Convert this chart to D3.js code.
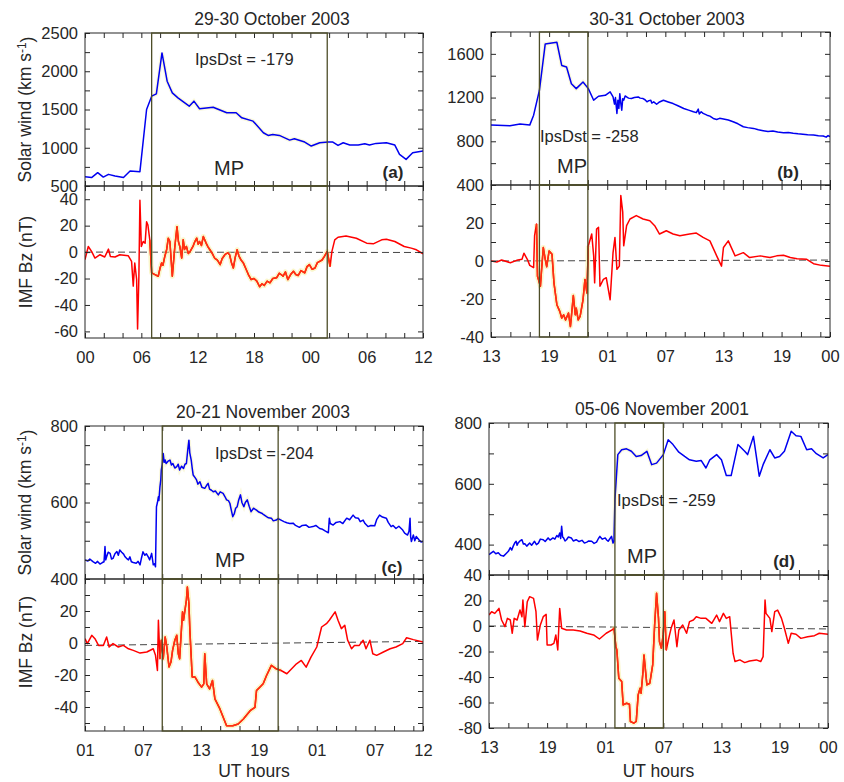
<!DOCTYPE html>
<html>
<head>
<meta charset="utf-8">
<script src="https://cdn.jsdelivr.net/npm/d3@7/dist/d3.min.js"></script>
<style>
  body { margin: 0; background: #fff; }
  svg text { font-family: "Liberation Sans", Arial, Helvetica, sans-serif; fill: #262626; }
</style>
</head>
<body>
<svg id="fig" width="844" height="782"></svg>
<script>
// ---- Event labels ----
const titles = ["29-30 October 2003", "30-31 October 2003", "20-21 November 2003", "05-06 November 2001"];
const letters = ["(a)", "(b)", "(c)", "(d)"];
const ipsDst = [-179, -258, -204, -259];

// ---- UT hour axes (hours from start of window) ----
const hourTicksA = [0, 6, 12, 18, 24, 30, 36];
const hourLabelsA = ["00", "06", "12", "18", "00", "06", "12"];
const hourTicksBCD = [0, 6, 12, 18, 24, 30, 35];
const hourLabelsB = ["13", "19", "01", "07", "13", "19", "00"];
const hourLabelsC = ["01", "07", "13", "19", "01", "07", "12"];
const hourLabelsD = ["13", "19", "01", "07", "13", "19", "00"];
const hourSpans = [36, 35, 35, 35];

// ---- Main phase (MP) windows, hours ----
const mpWindows = [[7.1, 25.8], [5, 10], [8, 20], [13, 18]];
// dashed reference line, Bz value at window start / end
const zeroLines = [[0, -0.3], [0, 0.5], [-1.5, 1], [0, -2.3]];

// ---- Value axes ----
const windDomains = [[500, 2500], [400, 1800], [400, 800], [300, 800]];
const windMinorSteps = [250, 200, 50, 100];
const windLabelSteps = [500, 400, 200, 200];
const bzDomains = [[-65, 50], [-40, 40], [-55, 40], [-80, 40]];
const bzMinorSteps = [20, 10, 10, 20];
const bzLabelSteps = [20, 20, 20, 20];

// ---- Solar wind speed (km/s) : [hour, value] ----
const windA = [[0,620],[0.7,610],[1.35,674],[1.95,617],[2.5,652],[3.2,630],[4.1,610],[4.8,695],[5.85,687],[6.56,1500],[7.1,1674],[7.6,1704],[8.2,2239],[8.75,1870],[9.3,1717],[9.9,1652],[11.1,1543],[11.6,1609],[12.2,1509],[13.65,1530],[15.1,1457],[16.1,1457],[16.7,1391],[17.9,1348],[19.0,1196],[19.5,1161],[20.0,1174],[20.7,1161],[21.8,1100],[22.3,1117],[23.4,1074],[24.1,1022],[25.0,1065],[25.9,1074],[26.4,1074],[26.95,1030],[27.5,1065],[28.2,1035],[29.1,1035],[29.8,1052],[30.3,1035],[31.0,1057],[32.1,1065],[33.0,1035],[33.5,913],[34.2,848],[34.9,935],[36,957]];
const windB = [[0,948],[1.96,942],[3.0,958],[4.0,948],[4.4,1039],[5.0,1267],[5.6,1691],[6.1,1697],[6.8,1706],[7.3,1494],[7.8,1479],[8.3,1327],[8.8,1282],[9.5,1342],[10.05,1282],[10.6,1176],[11.1,1212],[11.8,1221],[12.3,1252],[12.6,1206],[12.75,1140],[12.85,1200],[13.0,1055],[13.1,1176],[13.2,1100],[13.3,1236],[13.4,1150],[13.5,1085],[13.6,1190],[13.7,1176],[13.85,1215],[14.0,1206],[14.2,1195],[14.5,1191],[14.8,1200],[15.2,1206],[15.4,1195],[15.7,1191],[15.9,1180],[16.1,1161],[16.3,1172],[16.5,1175],[16.6,1150],[16.8,1161],[17.1,1139],[17.4,1160],[17.8,1176],[18.3,1160],[18.8,1145],[19.3,1125],[19.9,1100],[20.4,1085],[20.9,1070],[21.2,1062],[21.4,1095],[21.5,1050],[21.7,1070],[21.9,1055],[22.3,1039],[22.6,1030],[22.95,1009],[23.3,1000],[23.6,1010],[24.0,1003],[24.5,995],[25.0,979],[25.5,960],[26.05,933],[26.5,925],[27.1,918],[27.6,905],[28.1,897],[28.6,890],[29.1,894],[29.6,885],[30.2,879],[30.7,880],[31.2,873],[31.7,868],[32.2,864],[32.7,860],[33.3,858],[33.8,850],[34.3,848],[34.6,838],[34.8,852],[35,842]];
const windC = [[0,450],[0.3,447],[0.5,452],[0.86,445],[1.1,441],[1.3,446],[1.55,439],[1.8,443],[1.97,445],[2.07,485],[2.15,450],[2.24,458],[2.4,470],[2.6,467],[2.75,452],[2.9,454],[3.1,466],[3.3,472],[3.45,462],[3.6,476],[3.8,470],[4.0,465],[4.15,458],[4.3,454],[4.5,450],[4.65,458],[4.8,445],[5.0,443],[5.3,441],[5.5,446],[5.7,437],[5.85,455],[6.0,471],[6.2,462],[6.35,466],[6.55,458],[6.7,450],[6.9,467],[7.07,437],[7.2,440],[7.3,432],[7.4,589],[7.5,600],[7.6,615],[7.65,605],[7.76,641],[7.85,660],[7.9,685],[8.0,700],[8.1,728],[8.2,705],[8.3,711],[8.4,702],[8.6,708],[8.8,711],[8.95,698],[9.1,702],[9.3,690],[9.5,694],[9.65,700],[9.8,685],[10.0,695],[10.2,689],[10.35,700],[10.5,702],[10.65,740],[10.76,763],[10.85,730],[11.0,711],[11.1,690],[11.2,672],[11.4,665],[11.55,659],[11.7,648],[11.9,654],[12.1,640],[12.4,637],[12.6,645],[12.75,650],[12.9,635],[13.1,632],[13.3,628],[13.5,630],[13.8,620],[14.0,628],[14.3,624],[14.5,615],[14.66,607],[14.85,605],[15.0,598],[15.15,580],[15.3,563],[15.45,570],[15.6,585],[15.76,589],[15.9,605],[16.1,620],[16.25,600],[16.45,589],[16.6,600],[16.8,607],[17.0,590],[17.2,576],[17.45,585],[17.76,580],[18.0,575],[18.3,572],[18.5,568],[18.8,563],[19.0,560],[19.3,559],[19.5,552],[19.8,554],[20.0,558],[20.3,554],[20.6,550],[20.9,547],[21.2,545],[21.55,546],[21.8,540],[22.2,535],[22.5,540],[22.9,541],[23.2,535],[23.6,537],[23.9,540],[24.3,532],[24.6,530],[24.9,525],[25.2,521],[25.3,559],[25.4,545],[25.7,541],[26.0,548],[26.4,550],[26.7,545],[27.1,559],[27.4,555],[27.76,567],[28.0,560],[28.3,559],[28.5,550],[28.8,554],[29.0,545],[29.3,537],[29.6,540],[30.0,539],[30.2,555],[30.5,567],[30.8,562],[31.2,559],[31.4,548],[31.7,537],[31.9,540],[32.2,532],[32.5,538],[32.9,528],[33.1,520],[33.4,515],[33.55,525],[33.66,559],[33.72,510],[33.8,498],[34.0,515],[34.15,500],[34.3,511],[34.6,502],[34.8,497],[35,498]];
const windD = [[0,367],[0.2,372],[0.45,378],[0.7,370],[0.96,373],[1.2,365],[1.5,362],[1.75,370],[2.0,378],[2.2,390],[2.35,382],[2.5,395],[2.65,405],[2.8,411],[2.9,398],[3.0,405],[3.2,412],[3.4,416],[3.55,402],[3.7,403],[3.9,395],[4.2,405],[4.4,398],[4.7,411],[4.9,400],[5.1,405],[5.3,418],[5.6,416],[5.8,410],[6.1,422],[6.3,415],[6.6,422],[6.8,418],[7.0,430],[7.15,425],[7.3,438],[7.4,420],[7.5,460],[7.6,425],[7.7,422],[7.85,412],[8.0,416],[8.2,425],[8.5,422],[8.7,412],[9.0,416],[9.3,410],[9.6,414],[9.85,405],[10.1,408],[10.3,412],[10.6,411],[10.85,404],[11.1,408],[11.3,420],[11.45,427],[11.7,418],[12.0,422],[12.15,415],[12.3,411],[12.5,420],[12.65,427],[12.8,405],[12.9,411],[13.0,548],[13.3,696],[13.7,712],[14.2,715],[14.7,707],[15.2,690],[15.7,693],[16.3,707],[16.8,663],[17.3,668],[18.0,696],[18.5,745],[19.0,729],[19.6,704],[20.2,690],[20.7,679],[21.4,674],[21.9,677],[22.4,652],[22.8,679],[23.5,696],[24.0,679],[24.5,627],[25.0,627],[25.7,729],[26.4,707],[26.7,696],[27.3,756],[27.9,625],[28.3,663],[29.0,712],[29.5,685],[30.0,690],[30.5,707],[31.2,773],[31.7,758],[32.2,756],[32.8,712],[33.3,715],[33.8,699],[34.5,685],[35,696]];

// ---- IMF Bz (nT) : [hour, value] ----
const bzA = [[0,-5.75],[0.35,4.25],[0.7,0.5],[1.06,-4.5],[1.6,-2],[2.1,-3.75],[2.5,2.25],[2.7,-3.25],[3.2,-3.75],[3.7,-2],[4.6,-2.75],[4.96,-7],[5.14,-25.75],[5.3,-8.25],[5.5,-20.75],[5.6,-58.25],[5.74,-18.25],[5.85,39.25],[6.0,4.25],[6.2,8],[6.4,6.75],[6.56,23],[6.7,20.5],[6.9,9.25],[7.1,-15.75],[7.45,-17],[7.8,-18.25],[8.0,-12],[8.16,-8.25],[8.3,-10],[8.5,-3.25],[8.7,2],[8.87,10.5],[9.04,8],[9.3,-18.25],[9.57,4.25],[9.8,19.25],[9.95,8],[10.1,4.25],[10.3,-4.5],[10.46,9.25],[10.6,2],[10.8,4.25],[11.0,-1],[11.2,0.5],[11.5,4.25],[11.7,8],[11.9,10.5],[12.05,6],[12.2,8],[12.4,5],[12.6,11.75],[12.9,6.75],[13.1,4],[13.3,1.75],[13.55,-1],[13.8,-4.5],[14.1,-6],[14.4,-9.5],[14.6,-5],[14.9,-2],[15.2,-0.5],[15.4,-2],[15.6,-8],[15.8,-12],[16.0,-4],[16.2,1.75],[16.4,-3],[16.6,-5.75],[16.85,-8],[17.1,-12],[17.4,-17],[17.7,-20.75],[18.0,-20],[18.3,-22],[18.6,-26.25],[18.85,-24],[19.1,-25.25],[19.4,-22],[19.7,-23.25],[20.0,-20],[20.4,-19.5],[20.7,-16],[21.1,-18.25],[21.35,-15],[21.6,-20.75],[21.9,-17],[22.2,-14.5],[22.45,-17],[22.7,-17.75],[23.0,-14],[23.4,-15.75],[23.65,-11],[23.9,-9.5],[24.2,-13],[24.5,-12],[24.75,-8],[25.0,-7],[25.25,-6],[25.5,-3.25],[25.8,0.5],[26.1,-10.75],[26.3,0.5],[26.6,9.25],[26.95,11.25],[27.8,12.25],[28.9,10.5],[30.0,6.75],[30.7,6.25],[31.6,9.25],[32.1,9.75],[33.0,8],[34.0,4.25],[34.75,3],[35.3,1.75],[36,-1.25]];
const bzB = [[0,0],[0.6,-0.5],[1.1,0.5],[2.0,-0.9],[2.65,0.35],[3.2,0.9],[3.4,4.1],[3.75,0.9],[4.0,-2.3],[4.4,-3.5],[4.5,13.3],[4.7,19.5],[4.8,-8],[5.1,-13.3],[5.2,-6.2],[5.4,7.1],[5.6,0.9],[5.75,-3],[6.0,5.3],[6.3,3.5],[6.5,-11.5],[6.8,-23],[7.1,-26.5],[7.3,-30],[7.5,-28.3],[7.7,-31],[8.0,-27.4],[8.2,-34.5],[8.3,-29.2],[8.5,-18.2],[8.7,-28.3],[8.8,-24.8],[9.0,-31],[9.2,-29.2],[9.5,-20.4],[9.7,-9.7],[9.9,-16.8],[10.05,8],[10.4,14.2],[10.6,2.7],[10.7,-11.5],[10.9,16.8],[11.1,17.7],[11.25,-13.3],[11.6,-9.7],[11.9,-8.8],[12.3,-20.4],[12.6,4.4],[12.8,12.4],[13.0,-4.4],[13.25,-2.7],[13.4,34.5],[13.6,25.7],[13.7,8],[14.0,18.6],[14.35,22.1],[15.0,23.9],[15.7,22.1],[16.4,21.2],[16.9,18.6],[17.4,14.2],[18.1,15.9],[18.8,14.2],[19.5,13.3],[20.5,14.2],[21.2,14.7],[21.9,12.4],[22.6,10.6],[23.3,2.7],[23.8,-2.7],[24.0,7.1],[24.5,10.6],[25.2,2.7],[26.05,4.4],[26.7,1.8],[27.8,2.7],[28.8,1.8],[29.5,2.7],[30.2,3],[30.9,1.8],[31.6,1.2],[32.6,0.9],[33.3,-1.4],[34.1,-2.3],[35,-2.7]];
const bzC = [[0,2.7],[0.24,-0.4],[0.7,4.8],[1.03,2.7],[1.4,-1.5],[1.9,-1.5],[2.24,3.8],[2.5,-2.5],[2.9,-0.4],[3.45,-2.5],[3.97,-1.5],[4.5,-3.6],[5.0,-4.6],[5.7,-6.3],[6.4,-5.6],[7.07,-3.6],[7.3,-7.7],[7.5,-17.2],[7.6,14.2],[7.76,-9.8],[7.9,1.7],[8.1,-9.8],[8.3,3.8],[8.45,-1.5],[8.7,-15],[8.9,-11.9],[9.07,-4.6],[9.3,1.7],[9.5,4.8],[9.66,-6.7],[9.8,-9.8],[10.0,10],[10.1,19.5],[10.2,14.2],[10.4,22.6],[10.5,26.8],[10.6,35],[10.76,24.7],[10.86,7.9],[11.0,-8.8],[11.1,-21.3],[11.4,-21.3],[11.7,-24.5],[12.07,-27.6],[12.3,-25.5],[12.4,-6.7],[12.6,-25.5],[12.9,-28.7],[13.2,-23.4],[13.45,-34.9],[13.97,-41.2],[14.66,-51.7],[15.3,-51.7],[15.86,-50.6],[16.4,-47.5],[17.1,-42.3],[17.6,-40.2],[17.76,-29.7],[18.1,-27.6],[18.45,-25.5],[18.8,-20.3],[19.3,-14],[19.8,-16.1],[20.3,-17.2],[20.9,-19.2],[21.4,-16.1],[21.9,-13],[22.4,-10.9],[22.9,-15.1],[23.4,-8.8],[24.0,-2.5],[24.5,10],[25.0,12.1],[25.3,14.2],[25.9,19.5],[26.2,14.2],[26.55,9],[26.9,11.1],[27.2,1.7],[27.6,-3.6],[27.9,-1.5],[28.4,-1.5],[28.8,1.7],[29.1,-3.6],[29.5,1.7],[29.8,-6.7],[30.2,-7.7],[30.9,-5.6],[31.6,-3.6],[32.2,-2.5],[32.9,-0.4],[33.3,3.3],[34.0,2.1],[35,0.6]];
const bzD = [[0,8.6],[0.27,11.2],[0.6,9.9],[1.03,13.8],[1.3,4.7],[1.65,-0.5],[1.9,6],[2.2,4.7],[2.4,-5.7],[2.6,6],[2.9,4.7],[3.2,12.5],[3.4,7.3],[3.5,20.4],[3.7,-0.5],[3.95,19],[4.2,23],[4.6,21.7],[4.85,11.2],[5.0,-11],[5.3,0.8],[5.6,7.3],[5.9,9.1],[6.0,-14.9],[6.4,-14.9],[6.7,-13.6],[6.9,-7],[7.1,-18.8],[7.3,13.8],[7.5,-1.8],[8.0,-3.1],[8.7,-3.1],[9.4,-3.9],[10.1,-5.7],[10.8,-7],[11.4,-10.2],[12.1,-5.7],[12.8,-2.6],[12.9,-1.8],[13.1,-16.2],[13.2,-18.8],[13.4,-41],[13.7,-43.6],[13.85,-61.9],[14.2,-60.6],[14.5,-61.4],[14.6,-74.9],[14.95,-76.2],[15.2,-74.9],[15.4,-54],[15.6,-48.8],[15.7,-52.7],[15.9,-35.8],[16.0,-22.7],[16.3,-46.2],[16.6,-44.9],[16.9,-30.5],[17.1,0.8],[17.3,25.6],[17.5,6],[17.6,-12.3],[17.8,-17.5],[17.98,-7],[18.15,11.2],[18.3,-18.8],[18.6,-8.4],[18.8,-1.8],[19.1,4.7],[19.4,-16.2],[19.6,-3.1],[20.0,0.8],[20.4,-5.7],[20.7,3.4],[21.1,4.7],[21.4,7.3],[21.9,6],[22.4,6],[23.0,2.1],[23.5,8.6],[23.8,3.4],[24.2,9.9],[24.5,6],[24.85,7.3],[25.2,-21.4],[25.4,-27.9],[25.9,-26.6],[26.4,-28.7],[26.9,-27.4],[27.6,-26.6],[28.05,-27.9],[28.3,-24],[28.5,20.4],[28.6,9.9],[29.0,6],[29.2,-4.4],[29.5,11.2],[29.8,12.5],[30.2,6],[30.5,-1.8],[30.9,-13.6],[31.2,-5.7],[31.7,-6.5],[32.2,-9.7],[32.9,-8.4],[33.6,-7.6],[34.1,-5.7],[35,-6.5]];

// ---- Figure layout ----
const svg = d3.select("#fig");
const AXIS = "#262626";
const BOX = "#4d4d28";

const frames = [
  { x0: 85,  x1: 423, yTop: 33,  yMid: 186, yBot: 338 },
  { x0: 491, x1: 830, yTop: 32,  yMid: 185, yBot: 337 },
  { x0: 85,  x1: 423, yTop: 426, yMid: 579, yBot: 731 },
  { x0: 489, x1: 828, yTop: 423, yMid: 575, yBot: 728 }
];
const annot = [
  { title: [272, 25],  ips: [195, 65],  mp: [229, 175], letter: [393, 178] },
  { title: [667, 25],  ips: [540, 142], mp: [572, 173], letter: [788, 178] },
  { title: [263, 418], ips: [215, 459], mp: [230, 567], letter: [392, 573] },
  { title: [662, 415], ips: [617, 506], mp: [642, 563], letter: [784, 567] }
];
const windSeries = [windA, windB, windC, windD];
const bzSeries = [bzA, bzB, bzC, bzD];
const hourLabels = [hourLabelsA, hourLabelsB, hourLabelsC, hourLabelsD];
const hourTicks = [hourTicksA, hourTicksBCD, hourTicksBCD, hourTicksBCD];

function styleAxis(g, size) {
  g.select(".domain").remove();
  g.selectAll("line").attr("stroke", AXIS).attr("stroke-width", 1);
  g.selectAll("text").attr("fill", AXIS).style("font-size", size + "px")
    .style("font-family", '"Liberation Sans", Arial, sans-serif');
}

function inRange(v, lo, hi) { return v >= lo - 1e-9 && v <= hi + 1e-9; }

function drawAxesBox(g, x, y, y0, y1, f, ticksY, labelY, xTicks, xLabels, showX, span, suppressTop) {
  const labelSet = new Set(labelY);
  // left (labels) and right (mirror ticks)
  const left = g.append("g").attr("transform", `translate(${f.x0},0)`)
    .call(d3.axisLeft(y).tickValues(ticksY).tickSize(-5).tickPadding(7)
      .tickFormat(d => (labelSet.has(d) && !(suppressTop && d === y.domain()[1])) ? d : ""));
  styleAxis(left, 16.5);
  const right = g.append("g").attr("transform", `translate(${f.x1},0)`)
    .call(d3.axisRight(y).tickValues(ticksY).tickSize(-5).tickFormat(""));
  styleAxis(right, 16.5);
  // hour ticks every 2 h on top and bottom edges
  const minor = d3.range(0, span + 0.01, 2).concat([span]);
  const labMap = new Map(xTicks.map((t, i) => [t, xLabels[i]]));
  const top = g.append("g").attr("transform", `translate(0,${y0})`)
    .call(d3.axisTop(x).tickValues(minor).tickSize(-5).tickFormat(""));
  styleAxis(top, 16.5);
  const bottom = g.append("g").attr("transform", `translate(0,${y1})`)
    .call(d3.axisBottom(x).tickValues(showX ? Array.from(new Set(minor.concat(xTicks))) : minor)
      .tickSize(-5).tickPadding(13)
      .tickFormat(d => showX && labMap.has(d) ? labMap.get(d) : ""));
  styleAxis(bottom, 16.5);
  // frame
  g.append("rect").attr("x", f.x0).attr("y", y0).attr("width", f.x1 - f.x0).attr("height", y1 - y0)
    .attr("fill", "none").attr("stroke", AXIS).attr("stroke-width", 1);
}

frames.forEach((f, i) => {
  const span = hourSpans[i];
  const x = d3.scaleLinear().domain([0, span]).range([f.x0, f.x1]);
  const yW = d3.scaleLinear().domain(windDomains[i]).range([f.yMid, f.yTop]);
  const yB = d3.scaleLinear().domain(bzDomains[i]).range([f.yBot, f.yMid]);
  const mp = mpWindows[i];
  const g = svg.append("g");

  const clipW = "clipW" + i, clipB = "clipB" + i;
  const defs = svg.append("defs");
  defs.append("clipPath").attr("id", clipW).append("rect")
    .attr("x", f.x0).attr("y", f.yTop).attr("width", f.x1 - f.x0).attr("height", f.yMid - f.yTop);
  defs.append("clipPath").attr("id", clipB).append("rect")
    .attr("x", f.x0).attr("y", f.yMid).attr("width", f.x1 - f.x0).attr("height", f.yBot - f.yMid);

  // wind ticks
  const wd = windDomains[i];
  const wTicks = d3.range(wd[0], wd[1] + 0.1, windMinorSteps[i]);
  const wLabels = wTicks.filter(v => Math.abs((v / windLabelSteps[i]) - Math.round(v / windLabelSteps[i])) < 1e-9);
  // bz ticks
  const bd = bzDomains[i];
  const bStart = Math.ceil(bd[0] / bzMinorSteps[i]) * bzMinorSteps[i];
  const bTicks = d3.range(bStart, bd[1] + 0.1, bzMinorSteps[i]);
  const bLabels = bTicks.filter(v => Math.abs((v / bzLabelSteps[i]) - Math.round(v / bzLabelSteps[i])) < 1e-9);
  // where a wind label sits on the shared edge, the Bz label there is left out
  const shared = wLabels.includes(wd[0]);

  const line = (yS) => d3.line().x(d => x(d[0])).y(d => yS(d[1]));

  // dashed zero line
  const zl = zeroLines[i];
  g.append("path").datum([[0, zl[0]], [span, zl[1]]])
    .attr("d", line(yB)).attr("fill", "none").attr("stroke", "#444").attr("stroke-width", 1)
    .attr("stroke-dasharray", "7,4").attr("clip-path", `url(#${clipB})`);

  // solar wind
  const wIn = windSeries[i].filter(d => inRange(d[0], mp[0] - 0.4, mp[1] + 0.4));
  g.append("path").datum(wIn).attr("d", line(yW)).attr("fill", "none")
    .attr("stroke", "#f2eca0").attr("stroke-width", 4).attr("stroke-opacity", 0.35)
    .attr("clip-path", `url(#${clipW})`);
  g.append("path").datum(windSeries[i]).attr("d", line(yW)).attr("fill", "none")
    .attr("stroke", "#0000f0").attr("stroke-width", 1.5).attr("stroke-linejoin", "round")
    .attr("clip-path", `url(#${clipW})`);

  // IMF Bz with highlighted main-phase stretch
  const bIn = bzSeries[i].filter(d => inRange(d[0], mp[0] - 0.3, mp[1] + 0.3));
  g.append("path").datum(bIn).attr("d", line(yB)).attr("fill", "none")
    .attr("stroke", "#f3ea8c").attr("stroke-width", 5).attr("stroke-opacity", 0.45)
    .attr("stroke-linejoin", "round").attr("clip-path", `url(#${clipB})`);
  g.append("path").datum(bzSeries[i]).attr("d", line(yB)).attr("fill", "none")
    .attr("stroke", "#ff0000").attr("stroke-width", 1.5).attr("stroke-linejoin", "round")
    .attr("clip-path", `url(#${clipB})`);
  g.append("path").datum(bIn).attr("d", line(yB)).attr("fill", "none")
    .attr("stroke", "#ff3210").attr("stroke-width", 1.5).attr("stroke-linejoin", "round")
    .attr("clip-path", `url(#${clipB})`);

  // axes boxes
  drawAxesBox(g, x, yW, f.yTop, f.yMid, f, wTicks, wLabels, hourTicks[i], hourLabels[i], false, span, false);
  drawAxesBox(g, x, yB, f.yMid, f.yBot, f, bTicks, bLabels, hourTicks[i], hourLabels[i], true, span, shared);

  // MP boxes
  [[f.yTop, f.yMid], [f.yMid, f.yBot]].forEach(([a, b]) => {
    g.append("rect").attr("x", x(mp[0])).attr("y", a).attr("width", x(mp[1]) - x(mp[0])).attr("height", b - a)
      .attr("fill", "none").attr("stroke", BOX).attr("stroke-width", 1.3);
  });

  // annotations
  const an = annot[i];
  g.append("text").attr("x", an.title[0]).attr("y", an.title[1]).attr("text-anchor", "middle")
    .style("font-size", "17.5px").attr("fill", "#1a1a1a").text(titles[i]);
  g.append("text").attr("x", an.ips[0]).attr("y", an.ips[1])
    .style("font-size", "16.5px").attr("fill", "#1a1a1a").text("IpsDst = " + ipsDst[i]);
  g.append("text").attr("x", an.mp[0]).attr("y", an.mp[1]).attr("text-anchor", "middle")
    .style("font-size", "20px").attr("fill", "#1a1a1a").text("MP");
  g.append("text").attr("x", an.letter[0]).attr("y", an.letter[1]).attr("text-anchor", "middle")
    .style("font-size", "17px").style("font-weight", "bold").attr("fill", "#1a1a1a").text(letters[i]);

  // axis titles on the left column
  if (i === 0 || i === 2) {
    const cyW = (f.yTop + f.yMid) / 2;
    const t = svg.append("text").attr("transform", `translate(31,${cyW}) rotate(-90)`)
      .attr("text-anchor", "middle").style("font-size", "17.5px");
    t.append("tspan").text("Solar wind (km s");
    t.append("tspan").attr("dy", "-0.45em").style("font-size", "12px").text("-1");
    t.append("tspan").attr("dy", "0.45em").text(")");
    const cyB = i === 0 ? (f.yMid + f.yBot) / 2 : 642;
    svg.append("text").attr("transform", `translate(32,${cyB}) rotate(-90)`)
      .attr("text-anchor", "middle").style("font-size", "17.5px").text("IMF Bz (nT)");
  }
  if (i >= 2) {
    svg.append("text").attr("x", (f.x0 + f.x1) / 2).attr("y", 777).attr("text-anchor", "middle")
      .style("font-size", "17.5px").text("UT hours");
  }
});
</script>
</body>
</html>
